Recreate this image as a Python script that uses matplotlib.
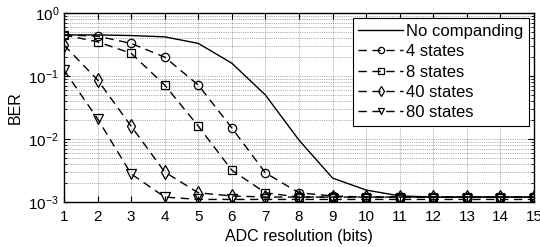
import numpy as np
import matplotlib
matplotlib.use('Agg')
import matplotlib.pyplot as plt

plt.rcParams['font.family'] = ['Liberation Sans', 'DejaVu Sans']

bits = [1, 2, 3, 4, 5, 6, 7, 8, 9, 10, 11, 12, 13, 14, 15]

ber_none = [0.45, 0.45, 0.44, 0.42, 0.33, 0.16, 0.05, 0.0096, 0.0024, 0.00155,
            0.00125, 0.0012, 0.0012, 0.0012, 0.0012]
ber_4 = [0.45, 0.43, 0.33, 0.2, 0.072, 0.015, 0.0029, 0.0014, 0.00125, 0.0012,
         0.0012, 0.0012, 0.0012, 0.0012, 0.0012]
ber_8 = [0.45, 0.35, 0.23, 0.072, 0.016, 0.0032, 0.0014, 0.0012, 0.0012, 0.0012,
         0.0012, 0.0012, 0.0012, 0.0012, 0.0012]
ber_40 = [0.31, 0.087, 0.016, 0.003, 0.0014, 0.00125, 0.0012, 0.0012, 0.0012, 0.0012,
          0.0012, 0.0012, 0.0012, 0.0012, 0.0012]
ber_80 = [0.125, 0.021, 0.0028, 0.0012, 0.0011, 0.0011, 0.0011, 0.0011, 0.0011, 0.0011,
          0.0011, 0.0011, 0.0011, 0.0011, 0.0011]

fig = plt.figure(figsize=(5.4, 2.47), dpi=100)
ax = fig.add_axes([0.1185, 0.182, 0.8705, 0.765])

ax.semilogy(bits, ber_none, '-', color='black', lw=1, label='No companding')
series = [(ber_4, 'o', 6, '4 states'), (ber_8, 's', 5.5, '8 states'),
          (ber_40, 'd', 7, '40 states'), (ber_80, 'v', 6.5, '80 states')]
for y, m, ms, lab in series:
    ax.semilogy(bits, y, '--', color='black', lw=1, marker=m, ms=ms,
                mfc='none', mec='black', mew=0.9, dashes=(6, 4), label=lab)

ax.set_xlim(1, 15)
ax.set_ylim(1e-3, 1)
ax.set_xticks(bits)
ax.grid(True, which='major', ls=':', color='black', lw=0.5, alpha=0.6)
ax.grid(True, which='minor', axis='y', ls=':', color='black', lw=0.5, alpha=0.6)
ax.tick_params(which='both', direction='in', top=True, right=True, labelsize=11)
ax.tick_params(axis='x', pad=6)
ax.tick_params(which='major', length=4)
ax.tick_params(which='minor', length=2)
for s in ax.spines.values():
    s.set_linewidth(1)

ax.set_xlabel('ADC resolution (bits)', fontsize=11.5, labelpad=3)
ax.set_ylabel('BER', fontsize=11.5)

leg = ax.legend(loc='upper right', fontsize=12, frameon=True, fancybox=False,
                edgecolor='black', framealpha=1, borderpad=0.35, labelspacing=0.32,
                handlelength=2.7, handletextpad=0.15, borderaxespad=0.3,
                markerscale=0.75)
leg.get_frame().set_linewidth(0.8)

plt.savefig('out.png', dpi=100)
